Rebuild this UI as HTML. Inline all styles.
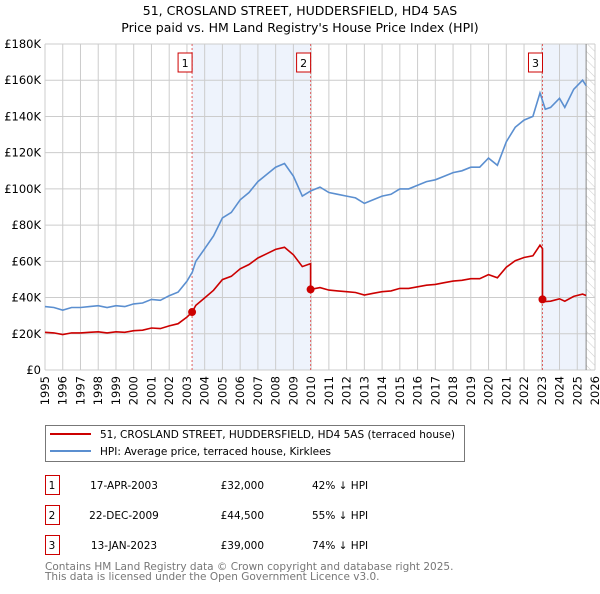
<!DOCTYPE html>
<html><head><meta charset="utf-8"><style>
body{margin:0;background:#fff;font-family:"DejaVu Sans","Liberation Sans",sans-serif;}
svg text{font-family:"DejaVu Sans","Liberation Sans",sans-serif;}
</style></head><body>
<svg id="c" width="600" height="590" xmlns="http://www.w3.org/2000/svg">
<defs><pattern id="hatch" width="6" height="6" patternUnits="userSpaceOnUse" patternTransform="rotate(-45)"><line x1="0" y1="0" x2="0" y2="6" stroke="#ccc" stroke-width="1"/></pattern></defs>
<text x="300" y="15" text-anchor="middle" font-size="12.5">51, CROSLAND STREET, HUDDERSFIELD, HD4 5AS</text>
<text x="300" y="32" text-anchor="middle" font-size="12.5">Price paid vs. HM Land Registry's House Price Index (HPI)</text>
<g id="plot"></g>
<g>
<rect x="45.5" y="425.5" width="419" height="36" fill="#fff" stroke="#777"/>
<line x1="50" y1="434" x2="91" y2="434" stroke="#cc0000" stroke-width="2"/>
<text x="100" y="438" font-size="10.5">51, CROSLAND STREET, HUDDERSFIELD, HD4 5AS (terraced house)</text>
<line x1="50" y1="451" x2="91" y2="451" stroke="#5b8fd0" stroke-width="2"/>
<text x="100" y="455" font-size="10.5">HPI: Average price, terraced house, Kirklees</text>
</g>
<g id="table" font-size="10.5"></g>
<text x="45" y="570" font-size="10.5" fill="#777">Contains HM Land Registry data © Crown copyright and database right 2025.</text>
<text x="45" y="580" font-size="10.5" fill="#777">This data is licensed under the Open Government Licence v3.0.</text>
</svg>
<script>
const hpiYears=[1995,1995.5,1996,1996.5,1997,1997.5,1998,1998.5,1999,1999.5,2000,2000.5,2001,2001.5,2002,2002.5,2003,2003.3,2003.5,2004,2004.5,2005,2005.5,2006,2006.5,2007,2007.5,2008,2008.5,2009,2009.5,2010,2010.5,2011,2011.5,2012,2012.5,2013,2013.5,2014,2014.5,2015,2015.5,2016,2016.5,2017,2017.5,2018,2018.5,2019,2019.5,2020,2020.5,2021,2021.5,2022,2022.5,2022.9,2023.2,2023.5,2024,2024.3,2024.8,2025.3,2025.5];
const hpiValues=[35,34.5,33,34.5,34.5,35,35.5,34.5,35.5,35,36.5,37,39,38.5,41,43,49,54,60,67,74,84,87,94,98,104,108,112,114,107,96,99,101,98,97,96,95,92,94,96,97,100,100,102,104,105,107,109,110,112,112,117,113,126,134,138,140,153,144,145,150,145,155,160,157];
const saleLabels=["1","2","3"];
const saleDates=["17-APR-2003","22-DEC-2009","13-JAN-2023"];
const saleYears=[2003.29,2009.97,2023.04];
const salePrices=[32,44.5,39];
const salePriceText=["£32,000","£44,500","£39,000"];
const saleHpiText=["42% ↓ HPI","55% ↓ HPI","74% ↓ HPI"];
const yTicks=[0,20,40,60,80,100,120,140,160,180];
const yTickLabels=["£0","£20K","£40K","£60K","£80K","£100K","£120K","£140K","£160K","£180K"];
const xTicks=[1995,1996,1997,1998,1999,2000,2001,2002,2003,2004,2005,2006,2007,2008,2009,2010,2011,2012,2013,2014,2015,2016,2017,2018,2019,2020,2021,2022,2023,2024,2025,2026];

const L=45,R=595,T=44,B=370,X0=1995,X1=2026,YMAX=180;
const xs=v=>L+(v-X0)/(X1-X0)*(R-L);
const ys=v=>B-v/YMAX*(B-T);
const NS="http://www.w3.org/2000/svg";
const plot=document.getElementById('plot');
function mk(tag,attrs,parent){const e=document.createElementNS(NS,tag);for(const k in attrs)e.setAttribute(k,attrs[k]);(parent||plot).appendChild(e);return e;}
function hpiAt(y){for(let i=0;i<hpiYears.length-1;i++){if(y>=hpiYears[i]&&y<=hpiYears[i+1]){const t=(y-hpiYears[i])/(hpiYears[i+1]-hpiYears[i]);return hpiValues[i]+t*(hpiValues[i+1]-hpiValues[i]);}}return hpiValues[hpiValues.length-1];}
const lastYear=hpiYears[hpiYears.length-1];
let s=mk('rect',{x:xs(saleYears[0]),y:T,width:xs(saleYears[1])-xs(saleYears[0]),height:B-T,fill:'#eef3fc'});


s=mk('rect',{x:xs(saleYears[2]),y:T,width:xs(lastYear)-xs(saleYears[2]),height:B-T,fill:'#eef3fc'});


s=mk('rect',{x:xs(lastYear),y:T,width:R-xs(lastYear),height:B-T,fill:'url(#hatch)'});


xTicks.forEach(t=>{const g=mk('line',{x1:xs(t),x2:xs(t),y1:T,y2:B,stroke:'#ccc','stroke-width':1});


const tx=mk('text',{x:0,y:0,'font-size':11.5,'text-anchor':'end',transform:`translate(${xs(t)+4},${B+6}) rotate(-90)`});tx.textContent=t;

});
yTicks.forEach((t,i)=>{const g=mk('line',{x1:L,x2:R,y1:ys(t),y2:ys(t),stroke:'#ccc','stroke-width':1});


const tx=mk('text',{x:L-4,y:ys(t)+4,'font-size':11.5,'text-anchor':'end'});tx.textContent=yTickLabels[i];

});
const lastLine=mk('line',{x1:xs(lastYear),x2:xs(lastYear),y1:T,y2:B,stroke:'#888','stroke-width':1});


saleYears.forEach((y,i)=>{const l=mk('line',{x1:xs(y),x2:xs(y),y1:T,y2:B,stroke:'#e06060','stroke-width':1,'stroke-dasharray':'2,2'});


const r=mk('rect',{x:xs(y)-14,y:53,width:14,height:19,fill:'#fff',stroke:'#cc0000'});


const t=mk('text',{x:xs(y)-7,y:67,'font-size':11,'text-anchor':'middle'});t.textContent=saleLabels[i];

});
let d=hpiYears.map((y,i)=>(i?'L':'M')+xs(y).toFixed(1)+','+ys(hpiValues[i]).toFixed(1)).join(' ');
const hl=mk('path',{d:d,fill:'none',stroke:'#5b8fd0','stroke-width':1.6});


const ratios=saleYears.map((y,i)=>salePrices[i]/hpiAt(y));
function redAt(y){let k=0;for(let i=0;i<saleYears.length;i++)if(y>=saleYears[i])k=i;return hpiAt(y)*ratios[k];}
const pts=[];
hpiYears.forEach(y=>{pts.push(y);});
saleYears.forEach(y=>{pts.push(y-0.001);pts.push(y);});
pts.sort((a,b)=>a-b);
d=pts.map((y,i)=>(i?'L':'M')+xs(y).toFixed(1)+','+ys(redAt(y)).toFixed(1)).join(' ');
const pl=mk('path',{d:d,fill:'none',stroke:'#cc0000','stroke-width':1.6});


saleYears.forEach((y,i)=>{const c=mk('circle',{cx:xs(y),cy:ys(salePrices[i]),r:4,fill:'#cc0000'});

});
const tb=document.getElementById('table');
saleLabels.forEach((lab,i)=>{const y0=475+i*30;
const r=mk('rect',{x:45.5,y:y0+0.5,width:14,height:19,fill:'#fff',stroke:'#cc0000'},tb);


const cols=[[52,lab,'middle'],[124,saleDates[i],'middle'],[264,salePriceText[i],'end'],[312,saleHpiText[i],'start']];
const names=['table-index','table-date','table-price','table-hpi-diff'];
cols.forEach((c,j)=>{const t=mk('text',{x:c[0],y:y0+14,'text-anchor':c[2]},tb);t.textContent=c[1];

});});
</script>
</body></html>
